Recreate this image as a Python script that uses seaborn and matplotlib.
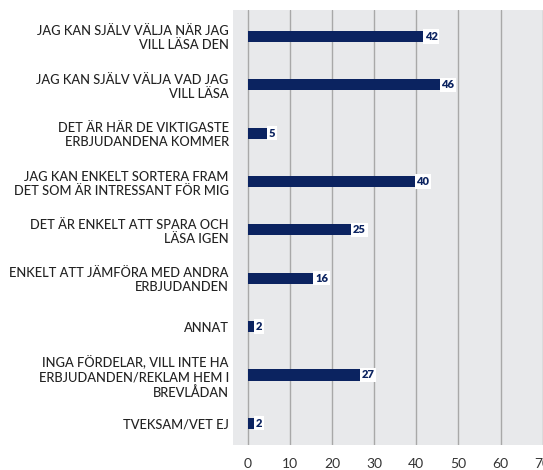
import matplotlib
matplotlib.use("Agg")
import matplotlib.pyplot as plt
import seaborn as sns
import pandas as pd

categories = [
    "JAG KAN SJÄLV VÄLJA NÄR JAG\nVILL LÄSA DEN",
    "JAG KAN SJÄLV VÄLJA VAD JAG\nVILL LÄSA",
    "DET ÄR HÄR DE VIKTIGASTE\nERBJUDANDENA KOMMER",
    "JAG KAN ENKELT SORTERA FRAM\nDET SOM ÄR INTRESSANT FÖR MIG",
    "DET ÄR ENKELT ATT SPARA OCH\nLÄSA IGEN",
    "ENKELT ATT JÄMFÖRA MED ANDRA\nERBJUDANDEN",
    "ANNAT",
    "INGA FÖRDELAR, VILL INTE HA\nERBJUDANDEN/REKLAM HEM I\nBREVLÅDAN",
    "TVEKSAM/VET EJ",
]
values = [42, 46, 5, 40, 25, 16, 2, 27, 2]
x_ticks = [0, 10, 20, 30, 40, 50, 60, 70]

navy = "#0b2360"
df = pd.DataFrame({"kategori": categories, "andel": values})

sns.set_style("white")
plt.rcParams["font.family"] = ["Lato", "DejaVu Sans"]

fig = plt.figure(figsize=(5.43, 4.70), dpi=100)
ax = fig.add_axes([0.429, 0.053, 0.575, 0.926])
ax.set_facecolor("#e8e9eb")

sns.barplot(data=df, x="andel", y="kategori", orient="h", color=navy,
            width=0.23, saturation=1, linewidth=0, ax=ax, zorder=3)

# value labels in white boxes at the bar ends
for i, v in enumerate(values):
    ax.text(v, i, str(v), ha="left", va="center", fontsize=8,
            fontweight="heavy", color=navy, zorder=4,
            bbox=dict(boxstyle="square,pad=0.15", fc="white", ec="none"))

ax.set_xlim(-3.5, 70.6)
ax.set_ylim(8.45, -0.55)
ax.set_xticks(x_ticks)
ax.set_xticklabels([str(t) for t in x_ticks], fontsize=10, color="#333333")
ax.tick_params(axis="y", labelsize=9.3, labelcolor="#222222", length=0, pad=3)
ax.tick_params(axis="x", length=0, pad=9)
for lbl in ax.get_yticklabels():
    lbl.set_linespacing(1.2)
    lbl.set_fontweight("medium")
ax.grid(axis="x", color="#a8a8a8", linewidth=1.0, zorder=1)
ax.set_axisbelow(True)
ax.set_xlabel("")
ax.set_ylabel("")
for s in ax.spines.values():
    s.set_visible(False)

fig.savefig("out.png", dpi=100)
